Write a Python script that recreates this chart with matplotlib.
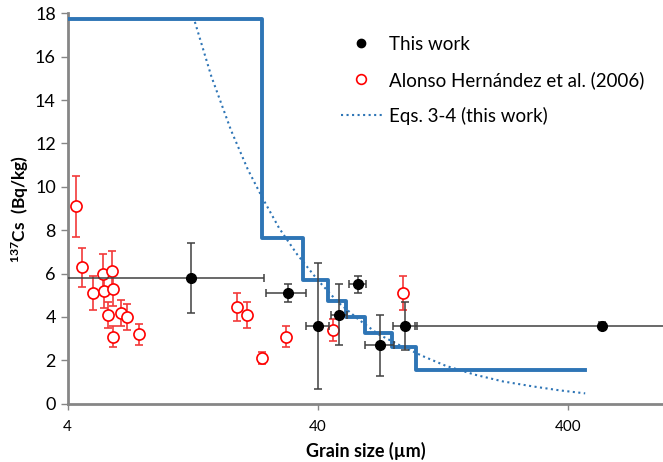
import numpy as np
import matplotlib.pyplot as plt
from matplotlib.lines import Line2D
from matplotlib.ticker import FixedLocator, NullLocator, FixedFormatter

plt.rcParams['font.family'] = ['Lato', 'DejaVu Sans']
plt.rcParams['mathtext.fontset'] = 'custom'
plt.rcParams['mathtext.bf'] = 'Lato:bold'
plt.rcParams['mathtext.rm'] = 'Lato'

# This work (filled black)
tw_x = [12.45, 30.4, 40.2, 48.8, 57.8, 71.2, 89.6, 548]
tw_y = [5.8, 5.1, 3.6, 4.1, 5.5, 2.7, 3.6, 3.6]
tw_xerr = [12.0, 5.5, 4.3, 3.7, 4.7, 9.2, 10.0, 450]
tw_yerr = [1.6, 0.4, 2.9, 1.4, 0.4, 1.4, 1.1, 0.15]

# Alonso Hernandez et al. (2006) (open red)
ah_x = [4.32, 4.56, 5.04, 5.52, 5.58, 6.00, 6.05, 5.78, 6.08, 6.54, 6.89, 7.69,
        18.97, 20.9, 23.9, 29.9, 45.8, 87.7]
ah_y = [9.1, 6.3, 5.1, 6.0, 5.2, 6.1, 5.3, 4.1, 3.1, 4.2, 4.0, 3.2,
        4.45, 4.1, 2.1, 3.1, 3.4, 5.1]
ah_yerr = [1.4, 0.9, 0.8, 0.9, 0.8, 0.95, 0.8, 0.6, 0.5, 0.6, 0.6, 0.5,
           0.65, 0.6, 0.28, 0.5, 0.5, 0.8]

# step model
step_edges = [4, 24, 35, 44, 52, 62, 79, 99, 470]
step_vals = [17.75, 7.63, 5.72, 4.72, 4.0, 3.24, 2.6, 1.58]

# Eqs. 3-4 curve
eq_x = [12.9, 15, 18, 21, 24, 28, 33, 40, 48, 58, 70, 85, 105, 130, 170, 220, 290, 370, 469]
eq_y = [17.6, 15.1, 12.6, 10.8, 9.5, 8.1, 6.9, 5.7, 4.7, 3.9, 3.2, 2.7, 2.2, 1.75, 1.34, 1.03, 0.8, 0.62, 0.48]

blue = '#2E75B6'
axc = '#868686'

fig = plt.figure(figsize=(6.63, 4.62), dpi=100)
ax = fig.add_axes([0.1021, 0.126, 0.8979, 0.8454])

ax.step(step_edges, step_vals + [step_vals[-1]], where='post', color=blue, lw=2.8, zorder=3)
ax.plot(eq_x, eq_y, ':', color=blue, lw=1.5, zorder=2)

ax.errorbar(ah_x, ah_y, yerr=ah_yerr, fmt='o', mfc='white', mec='#FF0000', mew=1.2, ms=8,
            ecolor='#F23A3A', elinewidth=1.2, capsize=3, capthick=1.2, zorder=4)
ax.errorbar(tw_x, tw_y, xerr=tw_xerr, yerr=tw_yerr, fmt='o', color='black', ms=7,
            ecolor='#404040', elinewidth=1.1, capsize=3, capthick=1.1, zorder=5)

ax.set_xscale('log')
ax.set_xlim(4, 960)
ax.set_ylim(0, 18)
ax.xaxis.set_major_locator(FixedLocator([4, 40, 400]))
ax.xaxis.set_major_formatter(FixedFormatter(['4', '40', '400']))
ax.xaxis.set_minor_locator(NullLocator())
ax.set_yticks(np.arange(0, 19, 2))

for s in ['top', 'right']:
    ax.spines[s].set_visible(False)
for s in ['left', 'bottom']:
    ax.spines[s].set_color(axc)
    ax.spines[s].set_linewidth(2)
ax.tick_params(axis='y', colors=axc, labelcolor='black', labelsize=13, length=5, width=1)
ax.tick_params(axis='x', colors=axc, labelcolor='black', labelsize=11, length=4, width=1, pad=8)

ax.set_xlabel('Grain size (µm)', fontsize=13, fontweight='bold', labelpad=5)
ax.set_ylabel(r'$\mathbf{^{137}}$Cs  (Bq/kg)', fontsize=12.5, fontweight='bold', labelpad=3)

handles = [
    Line2D([], [], marker='o', ls='none', color='black', ms=6),
    Line2D([], [], marker='o', ls='none', mfc='white', mec='#FF0000', mew=1.2, ms=7),
    Line2D([], [], ls=':', color=blue, lw=1.5),
]
labels = ['This work', 'Alonso Hernández et al. (2006)', 'Eqs. 3-4 (this work)']
ax.legend(handles, labels, loc='upper left', bbox_to_anchor=(0.43, 0.985), frameon=False,
          fontsize=13.5, handlelength=2.2, handletextpad=0.4, labelspacing=0.95)

fig.savefig('out.png', dpi=100)
